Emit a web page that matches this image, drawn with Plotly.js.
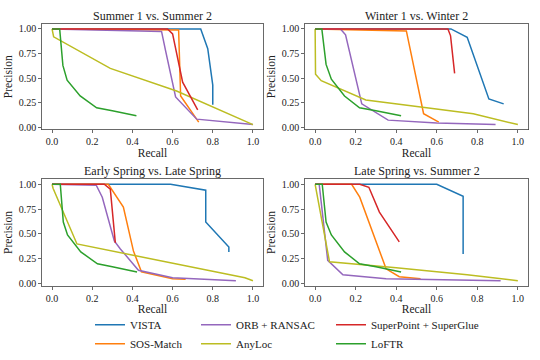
<!DOCTYPE html>
<html>
<head>
<meta charset="utf-8">
<script src="https://cdn.plot.ly/plotly-3.0.1.min.js"></script>
<style>body{margin:0;background:#fff}#chart{width:540px;height:360px}</style>
</head>
<body>
<div id="chart"></div>
<script>
// panel titles, one per subplot
let panelTitles = ["Summer 1 vs. Summer 2", "Winter 1 vs. Winter 2",
                   "Early Spring vs. Late Spring", "Late Spring vs. Summer 2"];

// recall / precision per method, one inner list per panel
let vistaRecall = [[0, 0.74, 0.775, 0.80, 0.80], [0, 0.67, 0.75, 0.857, 0.93],
                   [0, 0.59, 0.765, 0.765, 0.88, 0.88], [0, 0.60, 0.73, 0.73]];
let vistaPrecision = [[1, 1, 0.80, 0.43, 0.23], [1, 1, 0.915, 0.29, 0.24],
                      [1, 1, 0.94, 0.62, 0.37, 0.32], [1, 1, 0.88, 0.30]];

let sosRecall = [[0, 0.63, 0.64, 0.73], [0, 0.45, 0.535, 0.61],
                 [0, 0.28, 0.355, 0.405, 0.445, 0.60, 0.665], [0, 0.18, 0.22, 0.35, 0.415, 0.52]];
let sosPrecision = [[1, 0.99, 0.32, 0.055], [1, 0.98, 0.14, 0.055],
                    [1, 1, 0.77, 0.33, 0.12, 0.05, 0.045], [1, 1, 0.87, 0.15, 0.07, 0.05]];

let orbRecall = [[0, 0.545, 0.565, 0.615, 0.72, 1.0], [0, 0.125, 0.15, 0.23, 0.36, 0.6, 0.89],
                 [0, 0.22, 0.25, 0.31, 0.34, 0.43, 0.6, 0.915], [0, 0.02, 0.062, 0.137, 0.35, 0.915]];
let orbPrecision = [[1, 0.975, 0.78, 0.31, 0.085, 0.03], [1, 1, 0.94, 0.24, 0.075, 0.045, 0.03],
                    [1, 0.99, 0.87, 0.43, 0.35, 0.135, 0.06, 0.03], [1, 1, 0.235, 0.09, 0.05, 0.03]];

let anylocRecall = [[0, 0.008, 0.29, 0.62, 1.0], [0, 0.002, 0.03, 0.25, 0.55, 0.78, 1.0],
                    [0, 0.005, 0.124, 0.605, 0.96, 1.0], [0, 0.071, 0.4, 0.75, 1.0]];
let anylocPrecision = [[1, 0.92, 0.6, 0.37, 0.03], [1, 0.54, 0.475, 0.28, 0.2, 0.14, 0.03],
                       [1, 0.96, 0.40, 0.20, 0.06, 0.03], [1, 0.22, 0.16, 0.09, 0.03]];

let spsgRecall = [[0, 0.575, 0.60, 0.65, 0.725], [0, 0.655, 0.668, 0.688],
                  [0, 0.26, 0.29, 0.315], [0, 0.22, 0.265, 0.317, 0.415]];
let spsgPrecision = [[1, 1, 0.95, 0.46, 0.18], [1, 1, 0.93, 0.55],
                     [1, 1, 0.95, 0.41], [1, 1, 0.97, 0.72, 0.42]];

let loftrRecall = [[0, 0.038, 0.054, 0.075, 0.14, 0.222, 0.30, 0.42],
                   [0, 0.033, 0.054, 0.08, 0.145, 0.219, 0.30, 0.424],
                   [0, 0.041, 0.056, 0.077, 0.143, 0.226, 0.30, 0.423],
                   [0, 0.035, 0.054, 0.08, 0.145, 0.219, 0.30, 0.424]];
let loftrPrecision = [[1, 1, 0.63, 0.48, 0.32, 0.2, 0.17, 0.12],
                      [1, 1, 0.64, 0.49, 0.32, 0.2, 0.17, 0.12],
                      [1, 1, 0.62, 0.49, 0.32, 0.2, 0.17, 0.117],
                      [1, 1, 0.62, 0.49, 0.32, 0.2, 0.17, 0.117]];

let methods = [
  {name: "VISTA", r: vistaRecall, p: vistaPrecision, color: "#1f77b4", legend: "legend"},
  {name: "SOS-Match", r: sosRecall, p: sosPrecision, color: "#ff7f0e", legend: "legend"},
  {name: "ORB + RANSAC", r: orbRecall, p: orbPrecision, color: "#9467bd", legend: "legend2"},
  {name: "AnyLoc", r: anylocRecall, p: anylocPrecision, color: "#bcbd22", legend: "legend2"},
  {name: "SuperPoint + SuperGlue", r: spsgRecall, p: spsgPrecision, color: "#d62728", legend: "legend3"},
  {name: "LoFTR", r: loftrRecall, p: loftrPrecision, color: "#2ca02c", legend: "legend3"}
];

let serif = "Liberation Serif";
let data = [];
for (let i = 0; i < 4; i++) {
  for (let m of methods) {
    data.push({
      x: m.r[i], y: m.p[i], type: "scatter", mode: "lines",
      name: m.name, legend: m.legend, showlegend: i == 0,
      line: {color: m.color, width: 1.5},
      xaxis: i == 0 ? "x" : "x" + (i + 1),
      yaxis: i == 0 ? "y" : "y" + (i + 1)
    });
  }
}

let xDomains = [[42/540, 263/540], [305/540, 528/540]];
let yDomains = [[230.5/360, 336/360], [74.3/360, 180.7/360]];

function xAxis(dom, anchor) {
  return {domain: dom, anchor: anchor, range: [-0.05, 1.05],
    tickvals: [0, 0.2, 0.4, 0.6, 0.8, 1.0], tickformat: ".1f",
    showgrid: false, zeroline: false, showline: true, mirror: true,
    linecolor: "#444", linewidth: 0.8, ticks: "outside", ticklen: 3,
    tickwidth: 0.8, tickcolor: "#444", tickfont: {family: serif, size: 10, color: "#222"},
    title: {text: "Recall", font: {family: serif, size: 11.5, color: "#222"}, standoff: 0}};
}
function yAxis(dom, anchor) {
  return {domain: dom, anchor: anchor, range: [-0.02, 1.05],
    tickvals: [0, 0.25, 0.5, 0.75, 1.0], tickformat: ".2f",
    showgrid: false, zeroline: false, showline: true, mirror: true,
    linecolor: "#444", linewidth: 0.8, ticks: "outside", ticklen: 3,
    tickwidth: 0.8, tickcolor: "#444", tickfont: {family: serif, size: 10, color: "#222"},
    title: {text: "Precision", font: {family: serif, size: 11.5, color: "#222"}, standoff: 3}};
}

let annotations = [];
for (let i = 0; i < 4; i++) {
  let xd = xDomains[i % 2], yd = yDomains[Math.floor(i / 2)];
  annotations.push({text: panelTitles[i], xref: "paper", yref: "paper",
    x: (xd[0] + xd[1]) / 2, y: yd[1], yshift: 8, showarrow: false,
    xanchor: "center", yanchor: "middle", font: {family: serif, size: 12, color: "#222"}});
}

let legendBase = {orientation: "v", yanchor: "top", y: 0.138, xanchor: "left",
  font: {family: serif, size: 11, color: "#222"}, bgcolor: "rgba(0,0,0,0)", tracegroupgap: 0};

let layout = {
  width: 540, height: 360,
  margin: {l: 0, r: 0, t: 0, b: 0},
  paper_bgcolor: "#fff", plot_bgcolor: "#fff",
  font: {family: serif, color: "#222"},
  xaxis: xAxis(xDomains[0], "y"), yaxis: yAxis(yDomains[0], "x"),
  xaxis2: xAxis(xDomains[1], "y2"), yaxis2: yAxis(yDomains[0], "x2"),
  xaxis3: xAxis(xDomains[0], "y3"), yaxis3: yAxis(yDomains[1], "x3"),
  xaxis4: xAxis(xDomains[1], "y4"), yaxis4: yAxis(yDomains[1], "x4"),
  legend: Object.assign({}, legendBase, {x: 90/540}),
  legend2: Object.assign({}, legendBase, {x: 196/540}),
  legend3: Object.assign({}, legendBase, {x: 331/540}),
  annotations: annotations,
  showlegend: true
};

Plotly.newPlot("chart", data, layout, {displayModeBar: false, staticPlot: true});
</script>
</body>
</html>
